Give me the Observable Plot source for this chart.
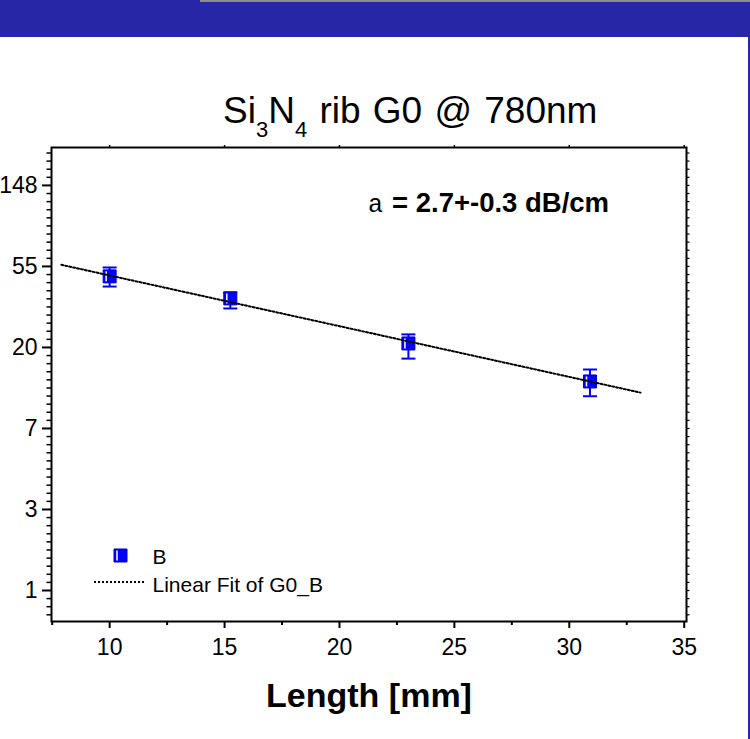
<!DOCTYPE html>
<html>
<head>
<meta charset="utf-8">
<script src="https://cdn.jsdelivr.net/npm/d3@7"></script>
<script src="https://cdn.jsdelivr.net/npm/@observablehq/plot@0.6"></script>
<style>
  body { margin: 0; background: #ffffff; }
  #wrap { position: relative; width: 750px; height: 739px; overflow: hidden; background: #ffffff; }
  #band { position: absolute; left: 0; top: 0; width: 750px; height: 37px; background: #2626a6; }
  #bandline { position: absolute; left: 200px; top: 0; width: 550px; height: 2px; background: #8c8c8c; }
  #edge { position: absolute; left: 748px; top: 37px; width: 2px; height: 702px; background: #2626a6; }
  #chart { position: absolute; left: 0; top: 0; }
</style>
</head>
<body>
<div id="wrap">
  <div id="chart"></div>
  <div id="band"></div>
  <div id="bandline"></div>
  <div id="edge"></div>
</div>
<script>
// ---- data ----
const lengthsMm = [10.0, 15.25, 23.0, 30.9];
const transmission = [48.3, 36.8, 21.1, 13.2];
const errLow = [42.6, 32.5, 17.5, 11.0];
const errHigh = [53.9, 39.6, 23.6, 15.3];
const fitLength = [7.9, 33.1];
const fitValue = [55.7, 11.5];
const xTickValues = [10, 15, 20, 25, 30, 35];
const xMinorValues = [7.5, 12.5, 17.5, 22.5, 27.5, 32.5];
const yTickExponents = [0, 1, 2, 3, 4, 5];
const yTickLabels = ["1", "3", "7", "20", "55", "148"];
const titleMain = "Si", titleSub1 = "3", titleMid = "N", titleSub2 = "4", titleRest = " rib G0 @ 780nm";
const annotSymbol = "a", annotText = "= 2.7+-0.3 dB/cm";
const legendLabels = ["B", "Linear Fit of G0_B"];
const xLabel = "Length [mm]";

const points = lengthsMm.map((x, i) => ({x, y: transmission[i], lo: errLow[i], hi: errHigh[i]}));
const fit = fitLength.map((x, i) => ({x, y: fitValue[i]}));
const yMajor = yTickExponents.map(e => Math.exp(e));
const yMinor = d3.range(-3, 55).filter(k => k % 10 !== 0).map(k => Math.exp(k / 10));
const yAll = yMajor.concat(yMinor);

const capSymbol = {draw(ctx) { ctx.moveTo(-7, 0); ctx.lineTo(7, 0); }};
const squareSymbol = {draw(ctx) { ctx.rect(-6.5, -6.5, 13, 13); }};
const glintSymbol = {draw(ctx) { ctx.moveTo(-3.5, -5); ctx.lineTo(-3.5, 5); }};

const font = "'Liberation Sans', Arial, sans-serif";
const blue = "#0000ff";

const chart = Plot.plot({
  width: 750,
  height: 739,
  marginLeft: 51,
  marginRight: 64,
  marginTop: 147,
  marginBottom: 118,
  style: {fontFamily: font, fontSize: "22px", color: "#000", background: "transparent", overflow: "visible"},
  x: {domain: [7.47, 35.1], axis: null},
  y: {type: "log", base: Math.E, domain: [0.682, 237], axis: null},
  marks: [
    Plot.axisX(xTickValues, {anchor: "bottom", tickSize: 7, tickPadding: 10, strokeWidth: 2, fontSize: 23, label: null, tickFormat: d => String(d)}),
    Plot.axisX(xMinorValues, {anchor: "bottom", tickSize: 4, strokeWidth: 2, label: null, tickFormat: () => ""}),
    Plot.axisX(xTickValues, {anchor: "top", tickSize: 3, strokeWidth: 1.5, label: null, tickFormat: () => ""}),
    Plot.axisY(yMajor, {anchor: "left", tickSize: 9, tickPadding: 5, strokeWidth: 2, fontSize: 23, label: null,
      tickFormat: d => yTickLabels[yTickExponents.indexOf(Math.round(Math.log(d)))]}),
    Plot.axisY(yMinor, {anchor: "left", tickSize: 4.5, strokeWidth: 1.5, label: null, tickFormat: () => ""}),
    Plot.axisY(yAll, {anchor: "right", tickSize: 2.5, strokeWidth: 1.2, label: null, tickFormat: () => ""}),
    Plot.frame({stroke: "#000", strokeWidth: 2}),
    Plot.ruleX(points, {x: "x", y1: "lo", y2: "hi", stroke: blue, strokeWidth: 2}),
    Plot.dot(points, {x: "x", y: "lo", symbol: capSymbol, stroke: blue, strokeWidth: 2, fill: "none"}),
    Plot.dot(points, {x: "x", y: "hi", symbol: capSymbol, stroke: blue, strokeWidth: 2, fill: "none"}),
    Plot.dot(points, {x: "x", y: "y", symbol: squareSymbol, fill: blue, stroke: "#0000c8", strokeWidth: 1}),
    Plot.dot(points, {x: "x", y: "y", symbol: glintSymbol, stroke: "#ffffff", strokeWidth: 1.5, fill: "none"}),
    Plot.line(fit, {x: "x", y: "y", stroke: "#000", strokeWidth: 2, strokeDasharray: "2,2"}),
    Plot.text([xLabel], {text: d => d, frameAnchor: "bottom", dy: 85, lineAnchor: "bottom", fontSize: 34, fontWeight: "bold", fill: "#000"}),
    Plot.text([legendLabels[0]], {text: d => d, frameAnchor: "bottom-left", dx: 101, dy: -58, lineAnchor: "bottom", textAnchor: "start", fontSize: 21, fill: "#000"}),
    Plot.text([legendLabels[1]], {text: d => d, frameAnchor: "bottom-left", dx: 101, dy: -30, lineAnchor: "bottom", textAnchor: "start", fontSize: 21, fill: "#000"}),
    Plot.dot([0], {frameAnchor: "bottom-left", dx: 69, dy: -66, symbol: squareSymbol, fill: blue, stroke: "#0000c8", strokeWidth: 1}),
    Plot.dot([0], {frameAnchor: "bottom-left", dx: 69, dy: -66, symbol: glintSymbol, stroke: "#ffffff", strokeWidth: 1.5, fill: "none"})
  ]
});

document.getElementById("chart").appendChild(chart);
const svg = d3.select(chart);

// legend sample line for the fit
svg.append("line")
  .attr("x1", 94).attr("x2", 146).attr("y1", 582).attr("y2", 582)
  .attr("stroke", "#000").attr("stroke-width", 2).attr("stroke-dasharray", "2,2");

// title with subscripts
const t = svg.append("text")
  .attr("x", 223).attr("y", 123)
  .attr("text-anchor", "start")
  .attr("font-family", font)
  .attr("font-size", 37)
  .attr("word-spacing", 2)
  .attr("fill", "#000");
t.append("tspan").text(titleMain);
t.append("tspan").attr("dy", 14).attr("font-size", 22).text(titleSub1);
t.append("tspan").attr("dy", -14).text(titleMid);
t.append("tspan").attr("dy", 14).attr("font-size", 22).text(titleSub2);
t.append("tspan").attr("dy", -14).text(titleRest);

// loss annotation
const a = svg.append("text")
  .attr("y", 212)
  .attr("text-anchor", "start")
  .attr("font-size", 27.5)
  .attr("fill", "#000");
a.append("tspan").attr("x", 368).attr("font-family", "'Liberation Mono', 'DejaVu Sans Mono', monospace").attr("font-size", 25).text(annotSymbol);
a.append("tspan").attr("x", 392).attr("font-family", font).attr("font-weight", "bold").text(annotText);
</script>
</body>
</html>
